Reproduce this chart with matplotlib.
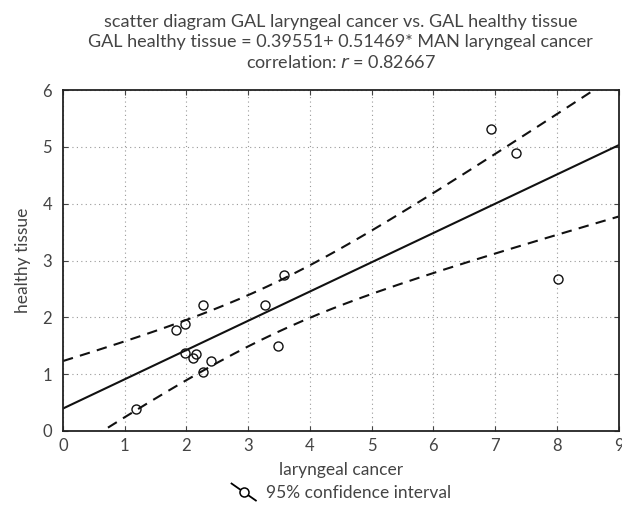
#!/usr/bin/env python3
# scatter diagram with regression line and 95% confidence band for the mean
import numpy as np
import matplotlib as mpl

mpl.rcParams["font.family"] = ["Lato", "DejaVu Sans"]

from matplotlib import pyplot as plt
from matplotlib.lines import Line2D
from matplotlib.legend_handler import HandlerBase

# ─── data ────────────────────────────────────────────────────────────
laryngeal = [1.18, 1.83, 1.98, 2.26, 1.97, 2.11, 2.15, 2.40, 2.27,
             3.27, 3.58, 3.49, 6.93, 7.34, 8.02]
healthy = [0.38, 1.78, 1.89, 2.21, 1.37, 1.29, 1.36, 1.23, 1.04,
           2.22, 2.74, 1.50, 5.32, 4.89, 2.68]

INTERCEPT = 0.39551
SLOPE = 0.51469
R = 0.82667
T_975 = 2.1604  # t quantile, df = n - 2 = 13

x = np.asarray(laryngeal)
y = np.asarray(healthy)
n = len(x)

# ─── confidence band for the regression line ─────────────────────────
xs = np.linspace(0, 9, 200)
fit = INTERCEPT + SLOPE * xs
resid = y - (INTERCEPT + SLOPE * x)
s = np.sqrt(np.sum(resid**2) / (n - 2))
sxx = np.sum((x - x.mean()) ** 2)
half = T_975 * s * np.sqrt(1 / n + (xs - x.mean()) ** 2 / sxx)


class DiagHandler(HandlerBase):
    """slanted line with a circle, like the original legend glyph"""

    def create_artists(self, legend, orig_handle, xdescent, ydescent,
                       width, height, fontsize, trans):
        ln = Line2D([0, width], [height * 1.15, -height * 0.25], color="black",
                    lw=1.3, transform=trans)
        mk = Line2D([width * 0.5], [height * 0.45], marker="o", ls="none",
                    mfc="white", mec="black", ms=6.5, mew=1.1, transform=trans)
        return [ln, mk]


fig = plt.figure(figsize=(6.22, 5.08), dpi=100)
ax = fig.add_axes([0.1013, 0.1516, 0.8931, 0.6712])

ax.plot(xs, fit, color="#111111", lw=1.5)
ax.plot(xs, fit + half, color="#111111", lw=1.5, ls=(0, (5, 3.5)))
ax.plot(xs, fit - half, color="#111111", lw=1.5, ls=(0, (5, 3.5)))
ax.plot(x, y, ls="none", marker="o", mfc="none", mec="#111111", ms=6.5, mew=1.0)

ax.set_xlim(0, 9)
ax.set_ylim(0, 6)
ax.set_xticks(range(0, 10))
ax.set_yticks(range(0, 7))
ax.grid(True, ls=(0, (1, 3)), color="#999999", lw=0.8)
ax.tick_params(direction="in", top=True, right=True, length=3.5,
               labelsize=12, colors="#444444", pad=5)
ax.tick_params(axis="y", pad=8)
for sp in ax.spines.values():
    sp.set_linewidth(1.3)
    sp.set_color("#222222")

ax.set_xlabel("laryngeal cancer", fontsize=12.5, color="#444444", labelpad=6)
ax.set_ylabel("healthy tissue", fontsize=12.5, color="#444444", labelpad=8)
ax.set_title(
    "scatter diagram GAL laryngeal cancer vs. GAL healthy tissue\n"
    f"GAL healthy tissue = {INTERCEPT}+ {SLOPE}* MAN laryngeal cancer\n"
    f"correlation: $r$ = {R}",
    fontsize=13, color="#444444", linespacing=1.3, pad=16,
)

fig.legend([Line2D([], [])], ["95% confidence interval"],
           handler_map={Line2D: DiagHandler()}, loc="lower center",
           bbox_to_anchor=(0.549, -0.016), frameon=False, fontsize=12.5,
           handlelength=1.4, handletextpad=0.6, labelcolor="#444444")

fig.savefig("out.png", dpi=100)
